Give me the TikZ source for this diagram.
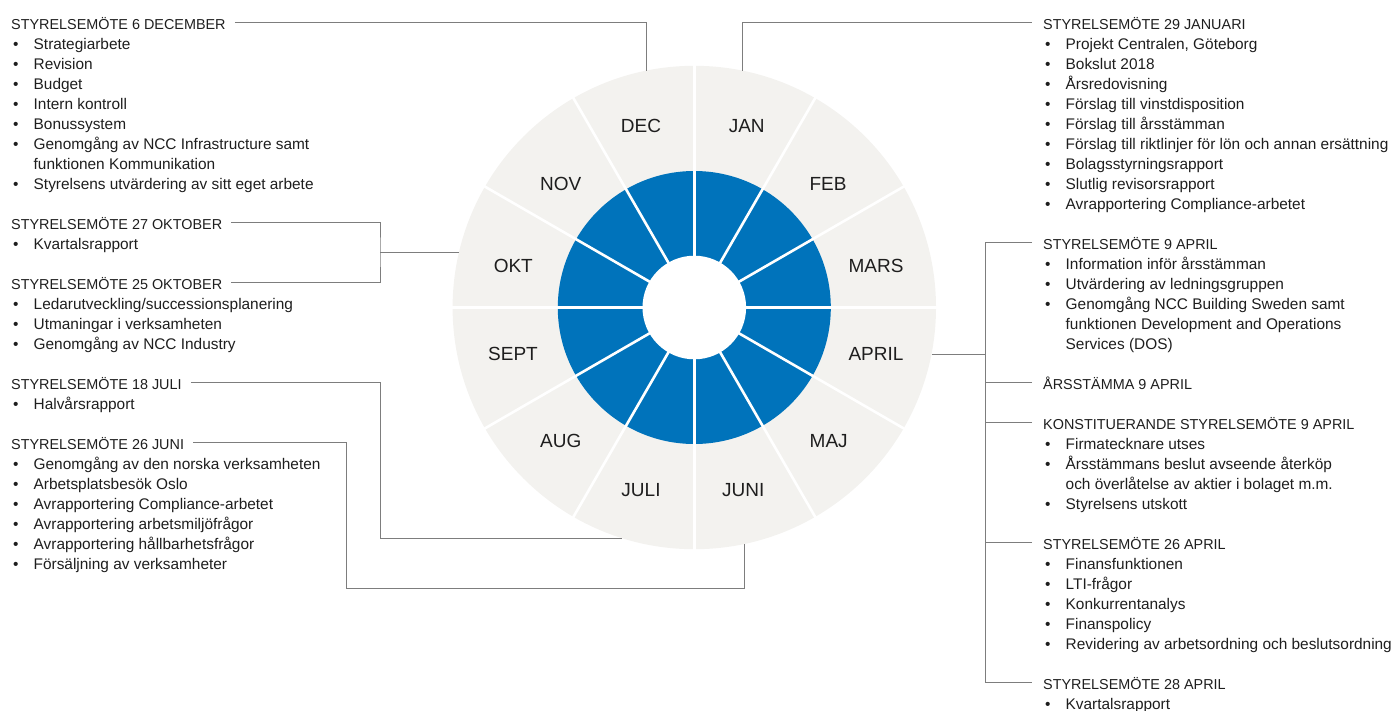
\documentclass[tikz,border=0pt]{standalone}
\usepackage{fontspec}
\setmainfont{Liberation Sans}
\definecolor{wgray}{RGB}{243,242,239}
\definecolor{nccblue}{RGB}{0,115,187}
\definecolor{conncol}{RGB}{125,125,125}
\definecolor{txt}{RGB}{30,30,30}
\newcommand\bodyfont{\fontsize{15.4}{20}\selectfont}
\newcommand\hdrfont{\fontsize{14.4}{20}\selectfont}
\newcommand\monfont{\fontsize{19}{22}\selectfont}
\newcommand\bul{\makebox[22.5pt][l]{\hspace*{2pt}\textbullet}}
\newcommand\ind{\hspace*{22.5pt}}
\begin{document}
\begin{tikzpicture}[x=1pt,y=-1pt,
  hdr/.style={anchor=base west, inner sep=0pt, font=\hdrfont, text=txt},
  itm/.style={anchor=base west, inner sep=0pt, font=\bodyfont, text=txt},
  month/.style={inner sep=0pt, font=\monfont, text=txt, text height=13.6pt, text depth=0pt},
  conn/.style={draw=conncol, line width=1pt},
  sepline/.style={draw=white, line width=2.6pt}]
\useasboundingbox (0,0) rectangle (1394,710);

% ---------- wheel ----------
\coordinate (c) at (694.3,307.5);
\fill[wgray] (c) circle[radius=241.7];
\fill[nccblue] (c) circle[radius=136.5];
\foreach \a in {0,30,...,150} \draw[sepline] (c) ++(\a:243) -- ++(\a+180:486);
\fill[white] (c) circle[radius=51.8];

\node[month] (mDec)  at (641,126)   {DEC};
\node[month] (mJan)  at (746.7,126) {JAN};
\node[month] (mNov)  at (560.7,183.3) {NOV};
\node[month] (mFeb)  at (828,183.3) {FEB};
\node[month] (mOkt)  at (513.3,266) {OKT};
\node[month] (mMar)  at (876,266)   {MARS};
\node[month] (mSep)  at (513,354)   {SEPT};
\node[month] (mApr)  at (876,354)   {APRIL};
\node[month] (mAug)  at (560.7,440.7) {AUG};
\node[month] (mMaj)  at (828.7,440.7) {MAJ};
\node[month] (mJuli) at (641,490)   {JULI};
\node[month] (mJuni) at (743.3,490) {JUNI};

% ---------- left column ----------
\node[hdr] (hDec) at (11,29+20*0) {STYRELSEMÖTE 6 DECEMBER};
\node[itm] (l1) at (11,29+20*1) {\bul Strategiarbete};
\node[itm] (l2) at (11,29+20*2) {\bul Revision};
\node[itm] (l3) at (11,29+20*3) {\bul Budget};
\node[itm] (l4) at (11,29+20*4) {\bul Intern kontroll};
\node[itm] (l5) at (11,29+20*5) {\bul Bonussystem};
\node[itm] (l6) at (11,29+20*6) {\bul Genomgång av NCC Infrastructure samt};
\node[itm] (l7) at (11,29+20*7) {\ind funktionen Kommunikation};
\node[itm] (l8) at (11,29+20*8) {\bul Styrelsens utvärdering av sitt eget arbete};

\node[hdr] (hOktA) at (11,29+20*10) {STYRELSEMÖTE 27 OKTOBER};
\node[itm] (l11) at (11,29+20*11) {\bul Kvartalsrapport};

\node[hdr] (hOktB) at (11,29+20*13) {STYRELSEMÖTE 25 OKTOBER};
\node[itm] (l14) at (11,29+20*14) {\bul Ledarutveckling/successionsplanering};
\node[itm] (l15) at (11,29+20*15) {\bul Utmaningar i verksamheten};
\node[itm] (l16) at (11,29+20*16) {\bul Genomgång av NCC Industry};

\node[hdr] (hJuli) at (11,29+20*18) {STYRELSEMÖTE 18 JULI};
\node[itm] (l19) at (11,29+20*19) {\bul Halvårsrapport};

\node[hdr] (hJuni) at (11,29+20*21) {STYRELSEMÖTE 26 JUNI};
\node[itm] (l22) at (11,29+20*22) {\bul Genomgång av den norska verksamheten};
\node[itm] (l23) at (11,29+20*23) {\bul Arbetsplatsbesök Oslo};
\node[itm] (l24) at (11,29+20*24) {\bul Avrapportering Compliance-arbetet};
\node[itm] (l25) at (11,29+20*25) {\bul Avrapportering arbetsmiljöfrågor};
\node[itm] (l26) at (11,29+20*26) {\bul Avrapportering hållbarhetsfrågor};
\node[itm] (l27) at (11,29+20*27) {\bul Försäljning av verksamheter};

% ---------- right column ----------
\node[hdr] (hJan) at (1043,29+20*0) {STYRELSEMÖTE 29 JANUARI};
\node[itm] (r1) at (1043,29+20*1) {\bul Projekt Centralen, Göteborg};
\node[itm] (r2) at (1043,29+20*2) {\bul Bokslut 2018};
\node[itm] (r3) at (1043,29+20*3) {\bul Årsredovisning};
\node[itm] (r4) at (1043,29+20*4) {\bul Förslag till vinstdisposition};
\node[itm] (r5) at (1043,29+20*5) {\bul Förslag till årsstämman};
\node[itm] (r6) at (1043,29+20*6) {\bul Förslag till riktlinjer för lön och annan ersättning};
\node[itm] (r7) at (1043,29+20*7) {\bul Bolagsstyrningsrapport};
\node[itm] (r8) at (1043,29+20*8) {\bul Slutlig revisorsrapport};
\node[itm] (r9) at (1043,29+20*9) {\bul Avrapportering Compliance-arbetet};

\node[hdr] (hApA) at (1043,29+20*11) {STYRELSEMÖTE 9 APRIL};
\node[itm] (r12) at (1043,29+20*12) {\bul Information inför årsstämman};
\node[itm] (r13) at (1043,29+20*13) {\bul Utvärdering av ledningsgruppen};
\node[itm] (r14) at (1043,29+20*14) {\bul Genomgång NCC Building Sweden samt};
\node[itm] (r15) at (1043,29+20*15) {\ind funktionen Development and Operations};
\node[itm] (r16) at (1043,29+20*16) {\ind Services (DOS)};

\node[hdr] (hApB) at (1043,29+20*18) {ÅRSSTÄMMA 9 APRIL};

\node[hdr] (hApC) at (1043,29+20*20) {KONSTITUERANDE STYRELSEMÖTE 9 APRIL};
\node[itm] (r21) at (1043,29+20*21) {\bul Firmatecknare utses};
\node[itm] (r22) at (1043,29+20*22) {\bul Årsstämmans beslut avseende återköp};
\node[itm] (r23) at (1043,29+20*23) {\ind och överlåtelse av aktier i bolaget m.m.};
\node[itm] (r24) at (1043,29+20*24) {\bul Styrelsens utskott};

\node[hdr] (hApD) at (1043,29+20*26) {STYRELSEMÖTE 26 APRIL};
\node[itm] (r27) at (1043,29+20*27) {\bul Finansfunktionen};
\node[itm] (r28) at (1043,29+20*28) {\bul LTI-frågor};
\node[itm] (r29) at (1043,29+20*29) {\bul Konkurrentanalys};
\node[itm] (r30) at (1043,29+20*30) {\bul Finanspolicy};
\node[itm] (r31) at (1043,29+20*31) {\bul Revidering av arbetsordning och beslutsordning};

\node[hdr] (hApE) at (1043,29+20*33) {STYRELSEMÖTE 28 APRIL};
\node[itm] (r34) at (1043,29+20*34) {\bul Kvartalsrapport};

% ---------- connector points ----------
\coordinate (aDec)  at (646,70.6);
\coordinate (aJan)  at (742.3,70.6);
\coordinate (jOkt)  at (380,252);
\coordinate (aOkt)  at (459.1,252);
\coordinate (cJuli) at (380,538);
\coordinate (aJuli) at (621.6,538);
\coordinate (cJuni) at (346,588);
\coordinate (aJuni) at (744,544);
\coordinate (aApr)  at (931.5,354);
\coordinate (bus)   at (985,300);

\coordinate (sA) at ([xshift=-11pt,yshift=6.5pt]hApA.base west);
\coordinate (sB) at ([xshift=-11pt,yshift=6.5pt]hApB.base west);
\coordinate (sC) at ([xshift=-11pt,yshift=6.5pt]hApC.base west);
\coordinate (sD) at ([xshift=-11pt,yshift=6.5pt]hApD.base west);
\coordinate (sE) at ([xshift=-11pt,yshift=6.5pt]hApE.base west);

% ---------- connectors ----------
\draw[conn] ([xshift=9pt,yshift=6.5pt]hDec.base east) -| (aDec);
\draw[conn] ([xshift=9pt,yshift=6.5pt]hOktA.base east) -| (jOkt) |- ([xshift=9pt,yshift=6.5pt]hOktB.base east);
\draw[conn] (jOkt) -- (aOkt);
\draw[conn] ([xshift=9pt,yshift=6.5pt]hJuli.base east) -| (cJuli) -- (aJuli);
\draw[conn] ([xshift=9pt,yshift=6.5pt]hJuni.base east) -| (cJuni) -| (aJuni);
\draw[conn] (aJan) |- ([xshift=-11pt,yshift=6.5pt]hJan.base west);

\draw[conn] (sA) -- (sA -| bus) -- (sE -| bus) -- (sE);
\draw[conn] (sB) -- (sB -| bus);
\draw[conn] (sC) -- (sC -| bus);
\draw[conn] (sD) -- (sD -| bus);
\draw[conn] (aApr) -- (aApr -| bus);
\end{tikzpicture}
\end{document}
